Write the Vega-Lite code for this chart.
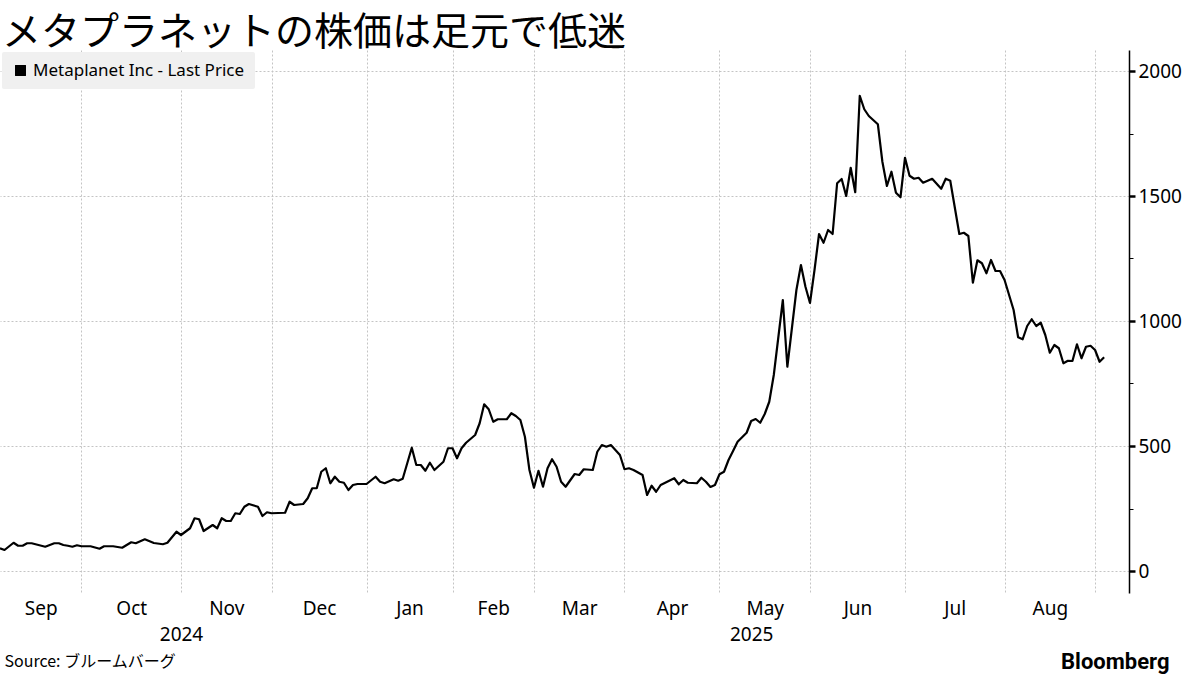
{
  "$schema": "https://vega.github.io/schema/vega-lite/v6.json",
  "width": 1129,
  "height": 543,
  "autosize": "none",
  "padding": {"left": 0, "top": 50, "right": 71, "bottom": 82},
  "background": "white",
  "title": {"text": "メタプラネットの株価は足元で低迷", "anchor": "start", "font": "Noto Sans CJK JP", "fontSize": 39, "fontWeight": "normal", "color": "#000000", "offset": 0, "dx": 3, "dy": 3},
  "config": {"view": {"stroke": null}},
  "data": {"values": [
    {"day": 0, "price": 91}, {"day": 1, "price": 84}, {"day": 3, "price": 113}, {"day": 4, "price": 101}, {"day": 5, "price": 101},
    {"day": 6, "price": 111}, {"day": 7, "price": 111}, {"day": 10, "price": 97}, {"day": 12, "price": 111}, {"day": 13, "price": 111},
    {"day": 14, "price": 104}, {"day": 15, "price": 101}, {"day": 16, "price": 97}, {"day": 17, "price": 103}, {"day": 18, "price": 99},
    {"day": 20, "price": 99}, {"day": 22, "price": 89}, {"day": 23, "price": 99}, {"day": 25, "price": 99}, {"day": 27, "price": 93},
    {"day": 29, "price": 115}, {"day": 30, "price": 111}, {"day": 32, "price": 127}, {"day": 34, "price": 112}, {"day": 36, "price": 107},
    {"day": 37, "price": 113}, {"day": 39, "price": 157}, {"day": 40, "price": 144}, {"day": 42, "price": 171}, {"day": 43, "price": 211},
    {"day": 44, "price": 207}, {"day": 45, "price": 160}, {"day": 47, "price": 184}, {"day": 48, "price": 171}, {"day": 49, "price": 211},
    {"day": 50, "price": 200}, {"day": 51, "price": 200}, {"day": 52, "price": 231}, {"day": 53, "price": 228}, {"day": 54, "price": 257},
    {"day": 55, "price": 268}, {"day": 57, "price": 257}, {"day": 58, "price": 220}, {"day": 59, "price": 235}, {"day": 60, "price": 231},
    {"day": 63, "price": 233}, {"day": 64, "price": 277}, {"day": 65, "price": 264}, {"day": 67, "price": 268}, {"day": 68, "price": 291},
    {"day": 69, "price": 331}, {"day": 70, "price": 331}, {"day": 71, "price": 397}, {"day": 72, "price": 411}, {"day": 73, "price": 351},
    {"day": 74, "price": 377}, {"day": 75, "price": 357}, {"day": 76, "price": 353}, {"day": 77, "price": 324}, {"day": 78, "price": 344},
    {"day": 79, "price": 348}, {"day": 81, "price": 348}, {"day": 83, "price": 377}, {"day": 84, "price": 357}, {"day": 85, "price": 351},
    {"day": 87, "price": 367}, {"day": 88, "price": 361}, {"day": 89, "price": 369}, {"day": 91, "price": 493}, {"day": 92, "price": 424},
    {"day": 93, "price": 424}, {"day": 94, "price": 401}, {"day": 95, "price": 433}, {"day": 96, "price": 404}, {"day": 98, "price": 437},
    {"day": 99, "price": 491}, {"day": 100, "price": 491}, {"day": 101, "price": 451}, {"day": 102, "price": 491}, {"day": 103, "price": 513},
    {"day": 105, "price": 544}, {"day": 106, "price": 591}, {"day": 107, "price": 667}, {"day": 108, "price": 647}, {"day": 109, "price": 597},
    {"day": 110, "price": 607}, {"day": 112, "price": 607}, {"day": 113, "price": 631}, {"day": 114, "price": 620}, {"day": 115, "price": 604},
    {"day": 116, "price": 537}, {"day": 117, "price": 404}, {"day": 118, "price": 333}, {"day": 119, "price": 401}, {"day": 120, "price": 337},
    {"day": 121, "price": 411}, {"day": 122, "price": 447}, {"day": 123, "price": 417}, {"day": 124, "price": 357}, {"day": 125, "price": 337},
    {"day": 127, "price": 388}, {"day": 128, "price": 384}, {"day": 129, "price": 407}, {"day": 131, "price": 404}, {"day": 132, "price": 477},
    {"day": 133, "price": 504}, {"day": 134, "price": 497}, {"day": 135, "price": 504}, {"day": 137, "price": 464}, {"day": 138, "price": 407},
    {"day": 139, "price": 411}, {"day": 140, "price": 404}, {"day": 142, "price": 384}, {"day": 143, "price": 304}, {"day": 144, "price": 341},
    {"day": 145, "price": 317}, {"day": 146, "price": 344}, {"day": 147, "price": 353}, {"day": 149, "price": 371}, {"day": 150, "price": 347},
    {"day": 151, "price": 364}, {"day": 152, "price": 353}, {"day": 154, "price": 351}, {"day": 155, "price": 373}, {"day": 156, "price": 357},
    {"day": 157, "price": 336}, {"day": 158, "price": 344}, {"day": 159, "price": 387}, {"day": 160, "price": 397}, {"day": 161, "price": 444},
    {"day": 162, "price": 480}, {"day": 163, "price": 517}, {"day": 165, "price": 553}, {"day": 166, "price": 600}, {"day": 167, "price": 608},
    {"day": 168, "price": 593}, {"day": 169, "price": 628}, {"day": 170, "price": 677}, {"day": 171, "price": 784}, {"day": 173, "price": 1084},
    {"day": 174, "price": 817}, {"day": 176, "price": 1124}, {"day": 177, "price": 1224}, {"day": 178, "price": 1137}, {"day": 179, "price": 1072},
    {"day": 180, "price": 1204}, {"day": 181, "price": 1348}, {"day": 182, "price": 1313}, {"day": 183, "price": 1364}, {"day": 184, "price": 1348},
    {"day": 185, "price": 1551}, {"day": 186, "price": 1568}, {"day": 187, "price": 1500}, {"day": 188, "price": 1613}, {"day": 189, "price": 1515},
    {"day": 190, "price": 1901}, {"day": 191, "price": 1847}, {"day": 192, "price": 1820}, {"day": 194, "price": 1787}, {"day": 195, "price": 1637},
    {"day": 196, "price": 1540}, {"day": 197, "price": 1597}, {"day": 198, "price": 1513}, {"day": 199, "price": 1495}, {"day": 200, "price": 1653},
    {"day": 201, "price": 1581}, {"day": 202, "price": 1569}, {"day": 203, "price": 1573}, {"day": 204, "price": 1553}, {"day": 206, "price": 1569},
    {"day": 208, "price": 1529}, {"day": 209, "price": 1569}, {"day": 210, "price": 1561}, {"day": 212, "price": 1348}, {"day": 213, "price": 1353},
    {"day": 214, "price": 1340}, {"day": 215, "price": 1153}, {"day": 216, "price": 1243}, {"day": 217, "price": 1231}, {"day": 218, "price": 1191},
    {"day": 219, "price": 1244}, {"day": 220, "price": 1200}, {"day": 221, "price": 1200}, {"day": 222, "price": 1164}, {"day": 224, "price": 1044},
    {"day": 225, "price": 935}, {"day": 226, "price": 927}, {"day": 227, "price": 980}, {"day": 228, "price": 1007}, {"day": 229, "price": 980},
    {"day": 230, "price": 993}, {"day": 231, "price": 944}, {"day": 232, "price": 873}, {"day": 233, "price": 904}, {"day": 234, "price": 891},
    {"day": 235, "price": 831}, {"day": 236, "price": 841}, {"day": 237, "price": 840}, {"day": 238, "price": 907}, {"day": 239, "price": 851},
    {"day": 240, "price": 897}, {"day": 241, "price": 901}, {"day": 242, "price": 884}, {"day": 243, "price": 837}, {"day": 244, "price": 855}
  ]},
  "mark": {"type": "line", "color": "#000000", "strokeWidth": 2.2, "strokeJoin": "round"},
  "encoding": {
    "x": {
      "field": "day", "type": "quantitative",
      "scale": {"domain": [0, 249.5], "nice": false, "zero": false},
      "axis": {
        "values": [9, 18, 29, 40, 50, 60, 70.5, 81, 90.5, 100, 109, 118, 128, 138, 148.5, 159, 166, 169, 179, 189.5, 200, 211, 222, 232, 242],
        "labelExpr": "datum.value==9?'Sep':datum.value==29?'Oct':datum.value==50?'Nov':datum.value==70.5?'Dec':datum.value==90.5?'Jan':datum.value==109?'Feb':datum.value==128?'Mar':datum.value==148.5?'Apr':datum.value==169?'May':datum.value==189.5?'Jun':datum.value==211?'Jul':datum.value==232?'Aug':datum.value==40?['','2024']:datum.value==166?['','2025']:''",
        "grid": true,
        "gridColor": "#c4c4c4",
        "gridDash": [2, 2],
        "gridWidth": 1,
        "gridOpacity": {"condition": {"test": "indexof([18,40,60,81,100,118,138,159,179,200,222,242], datum.value) >= 0", "value": 1}, "value": 0},
        "ticks": false,
        "domain": false,
        "labelFont": "Noto Sans",
        "labelFontSize": 19,
        "labelColor": "#000000",
        "labelPadding": 6,
        "labelLineHeight": 26,
        "labelOverlap": false,
        "labelBound": false,
        "labelFlush": false,
        "title": "Source: ブルームバーグ",
        "titleFont": "Noto Sans CJK JP",
        "titleFontSize": 16,
        "titleFontWeight": "normal",
        "titleColor": "#000000",
        "titleAnchor": "start",
        "titleAlign": "left",
        "titleBaseline": "middle",
        "titleX": 4,
        "titleY": 68
      }
    },
    "y": {
      "field": "price", "type": "quantitative",
      "scale": {"domain": [-88, 2084], "nice": false, "zero": false},
      "axis": {
        "orient": "right",
        "values": [0, 250, 500, 750, 1000, 1250, 1500, 1750, 2000],
        "format": "d",
        "labelExpr": "datum.value % 500 === 0 ? datum.label : ''",
        "grid": true,
        "gridColor": "#c4c4c4",
        "gridDash": [2, 2],
        "gridWidth": 1,
        "gridOpacity": {"condition": {"test": "datum.value % 500 === 0", "value": 1}, "value": 0},
        "domain": true,
        "domainColor": "#000000",
        "domainWidth": 1.5,
        "tickColor": "#000000",
        "tickWidth": {"condition": {"test": "datum.value % 500 === 0", "value": 2.5}, "value": 1},
        "tickSize": {"condition": {"test": "datum.value % 500 === 0", "value": 6}, "value": 4},
        "labelFont": "Noto Sans",
        "labelFontSize": 19,
        "labelColor": "#000000",
        "labelPadding": 3,
        "labelBaseline": "middle",
        "title": "Bloomberg",
        "titleFont": "Roboto",
        "titleFontSize": 22,
        "titleFontWeight": "bold",
        "titleColor": "#000000",
        "titleAngle": 0,
        "titleAlign": "right",
        "titleBaseline": "middle",
        "titleX": 40,
        "titleY": 611
      }
    },
    "color": {
      "datum": "Metaplanet Inc - Last Price",
      "type": "nominal",
      "scale": {"range": ["#000000"]},
      "legend": {
        "orient": "top-left",
        "offset": 2,
        "title": null,
        "fillColor": "#f0f0f0",
        "cornerRadius": 2,
        "padding": 10,
        "symbolType": "square",
        "symbolSize": 120,
        "symbolFillColor": "#000000",
        "symbolStrokeColor": "#000000",
        "symbolStrokeWidth": 0,
        "labelFont": "Noto Sans",
        "labelFontSize": 17,
        "labelColor": "#000000",
        "labelOffset": 4,
        "labelLimit": 500
      }
    }
  }
}
